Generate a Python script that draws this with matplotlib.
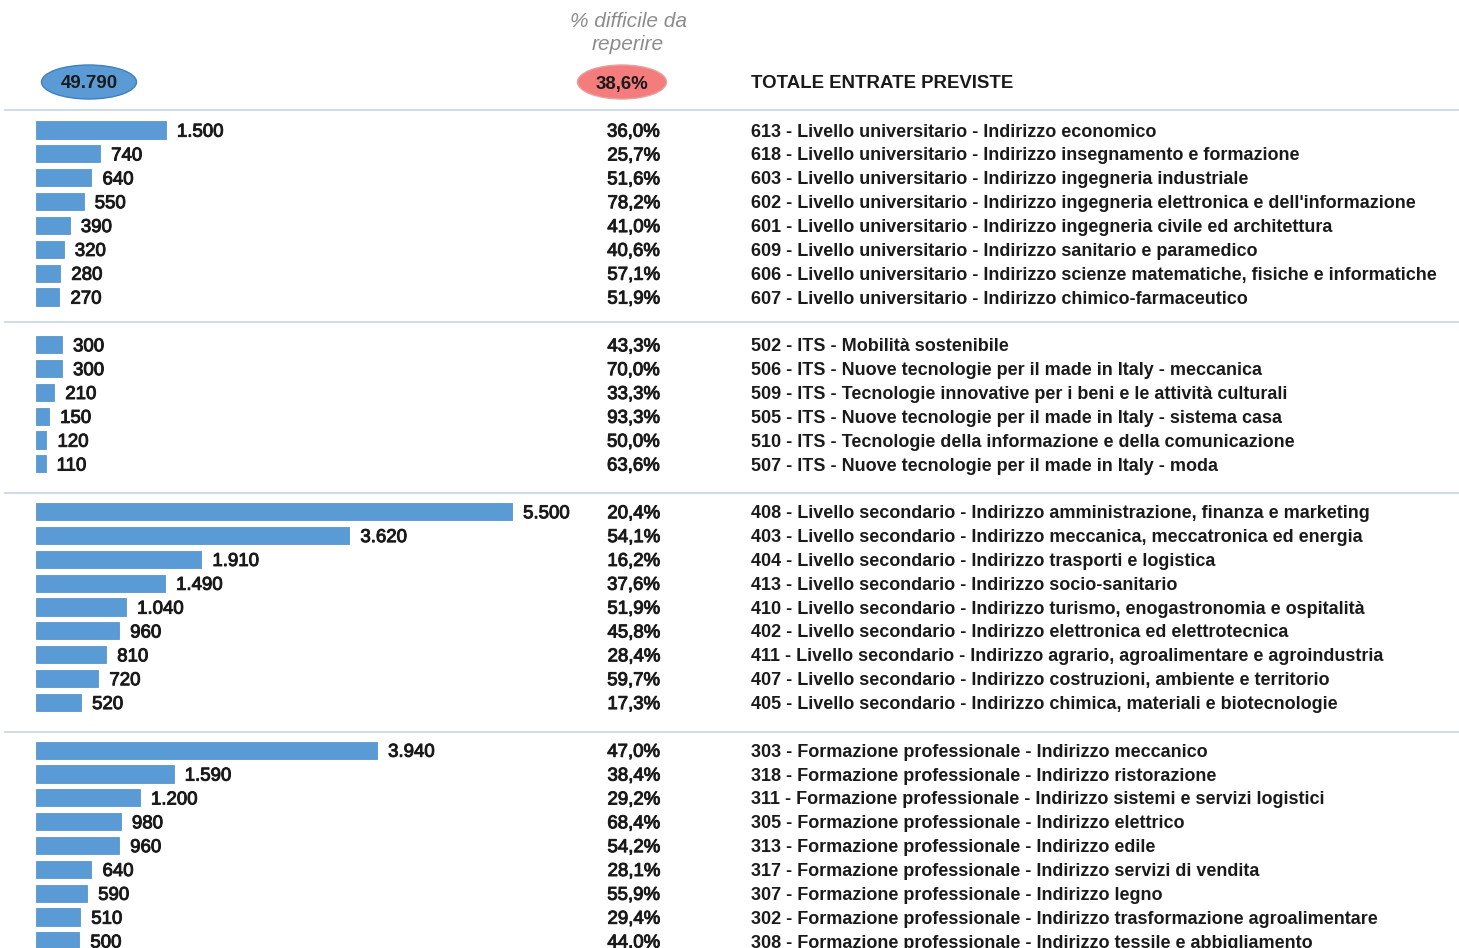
import matplotlib
matplotlib.use("Agg")
import matplotlib.pyplot as plt
from matplotlib.patches import Ellipse
from matplotlib.lines import Line2D
import matplotlib.patheffects as pe

plt.rcParams['font.family'] = ['Liberation Sans', 'DejaVu Sans']

# ---------------- data ----------------
group1_labels = [
    "613 - Livello universitario - Indirizzo economico",
    "618 - Livello universitario - Indirizzo insegnamento e formazione",
    "603 - Livello universitario - Indirizzo ingegneria industriale",
    "602 - Livello universitario - Indirizzo ingegneria elettronica e dell'informazione",
    "601 - Livello universitario - Indirizzo ingegneria civile ed architettura",
    "609 - Livello universitario - Indirizzo sanitario e paramedico",
    "606 - Livello universitario - Indirizzo scienze matematiche, fisiche e informatiche",
    "607 - Livello universitario - Indirizzo chimico-farmaceutico",
]
group1_values = [1500, 740, 640, 550, 390, 320, 280, 270]
group1_pct = ["36,0%", "25,7%", "51,6%", "78,2%", "41,0%", "40,6%", "57,1%", "51,9%"]

group2_labels = [
    "502 - ITS - Mobilità sostenibile",
    "506 - ITS - Nuove tecnologie per il made in Italy - meccanica",
    "509 - ITS - Tecnologie innovative per i beni e le attività culturali",
    "505 - ITS - Nuove tecnologie per il made in Italy - sistema casa",
    "510 - ITS - Tecnologie della informazione e della comunicazione",
    "507 - ITS - Nuove tecnologie per il made in Italy - moda",
]
group2_values = [300, 300, 210, 150, 120, 110]
group2_pct = ["43,3%", "70,0%", "33,3%", "93,3%", "50,0%", "63,6%"]

group3_labels = [
    "408 - Livello secondario - Indirizzo amministrazione, finanza e marketing",
    "403 - Livello secondario - Indirizzo meccanica, meccatronica ed energia",
    "404 - Livello secondario - Indirizzo trasporti e logistica",
    "413 - Livello secondario - Indirizzo socio-sanitario",
    "410 - Livello secondario - Indirizzo turismo, enogastronomia e ospitalità",
    "402 - Livello secondario - Indirizzo elettronica ed elettrotecnica",
    "411 - Livello secondario - Indirizzo agrario, agroalimentare e agroindustria",
    "407 - Livello secondario - Indirizzo costruzioni, ambiente e territorio",
    "405 - Livello secondario - Indirizzo chimica, materiali e biotecnologie",
]
group3_values = [5500, 3620, 1910, 1490, 1040, 960, 810, 720, 520]
group3_pct = ["20,4%", "54,1%", "16,2%", "37,6%", "51,9%", "45,8%", "28,4%", "59,7%", "17,3%"]

group4_labels = [
    "303 - Formazione professionale - Indirizzo meccanico",
    "318 - Formazione professionale - Indirizzo ristorazione",
    "311 - Formazione professionale - Indirizzo sistemi e servizi logistici",
    "305 - Formazione professionale - Indirizzo elettrico",
    "313 - Formazione professionale - Indirizzo edile",
    "317 - Formazione professionale - Indirizzo servizi di vendita",
    "307 - Formazione professionale - Indirizzo legno",
    "302 - Formazione professionale - Indirizzo trasformazione agroalimentare",
    "308 - Formazione professionale - Indirizzo tessile e abbigliamento",
]
group4_values = [3940, 1590, 1200, 980, 960, 640, 590, 510, 500]
group4_pct = ["47,0%", "38,4%", "29,2%", "68,4%", "54,2%", "28,1%", "55,9%", "29,4%", "44,0%"]

total_value = "49.790"
total_pct = "38,6%"
header_pct = "% difficile da\nreperire"
header_title = "TOTALE ENTRATE PREVISTE"

# ---------------- layout ----------------
W, H = 1459, 948
fig = plt.figure(figsize=(W / 100, H / 100), dpi=100)
ax = fig.add_axes([0, 0, 1, 1])
ax.set_axis_off()

px_per_unit = 476 / 5500.0
x0_px = 36
ax.set_xlim(-x0_px / px_per_unit, (W - x0_px) / px_per_unit)
row_px = 23.85
y0_px = 130
ax.set_ylim((H - y0_px) / row_px, -y0_px / row_px)

groups = [
    (group1_labels, group1_values, group1_pct, 0),
    (group2_labels, group2_values, group2_pct, 9),
    (group3_labels, group3_values, group3_pct, 16),
    (group4_labels, group4_values, group4_pct, 26),
]

bar_color = "#5b9bd5"
txt_color = "#1a1a1a"
fs = 13.4
heavy = [pe.withStroke(linewidth=0.7, foreground=txt_color)]
dy = 0.09  # small downward nudge of text relative to bar centre

def fmt(v):
    return f"{v:,}".replace(",", ".")

for labels, values, pcts, start in groups:
    ys = [start + i for i in range(len(values))]
    ax.barh(ys, values, height=0.72, color=bar_color, edgecolor="#4a8ac6", linewidth=0.5)
    for y, v, p, lab in zip(ys, values, pcts, labels):
        ax.annotate(fmt(v), xy=(v, y + dy), xytext=(8, 0), textcoords="offset points",
                    ha="left", va="center", fontsize=fs, color=txt_color,
                    path_effects=heavy)
        ax.text(660 / W, y + dy, p, transform=ax.get_yaxis_transform(),
                ha="right", va="center", fontsize=fs, color=txt_color,
                path_effects=heavy)
        ax.text(751 / W, y + dy, lab, transform=ax.get_yaxis_transform(),
                ha="left", va="center", fontsize=13.0, fontweight="bold",
                color=txt_color)

# separator lines (pixel rows converted to figure fraction)
for ypx in [110, 322, 493, 732]:
    fig.add_artist(Line2D([5 / W, 1459 / W], [1 - ypx / H, 1 - ypx / H],
                          color="#c8d8e8", linewidth=1.3))

# header
fig.add_artist(Ellipse((89 / W, 1 - 82 / H), 95 / W, 34 / H,
                       facecolor="#5b9bd5", edgecolor="#3f7fbf", linewidth=1.0))
fig.text(89 / W, 1 - 84 / H, total_value, ha="center", va="center",
         fontsize=fs, fontweight="bold", color=txt_color)
fig.add_artist(Ellipse((622 / W, 1 - 82 / H), 89 / W, 34 / H,
                       facecolor="#f47c7c", edgecolor="#e8a0a0", linewidth=1.0))
fig.text(622 / W, 1 - 84 / H, total_pct, ha="center", va="center",
         fontsize=fs, fontweight="bold", color=txt_color)
fig.text(628 / W, 1 - 33 / H, header_pct, ha="center", va="center",
         fontsize=15, fontstyle="italic", color="#8c8c8c", linespacing=1.22)
fig.text(751 / W, 1 - 83 / H, header_title, ha="left", va="center",
         fontsize=fs, fontweight="bold", color=txt_color)

fig.savefig("out.png", dpi=100, facecolor="white")
